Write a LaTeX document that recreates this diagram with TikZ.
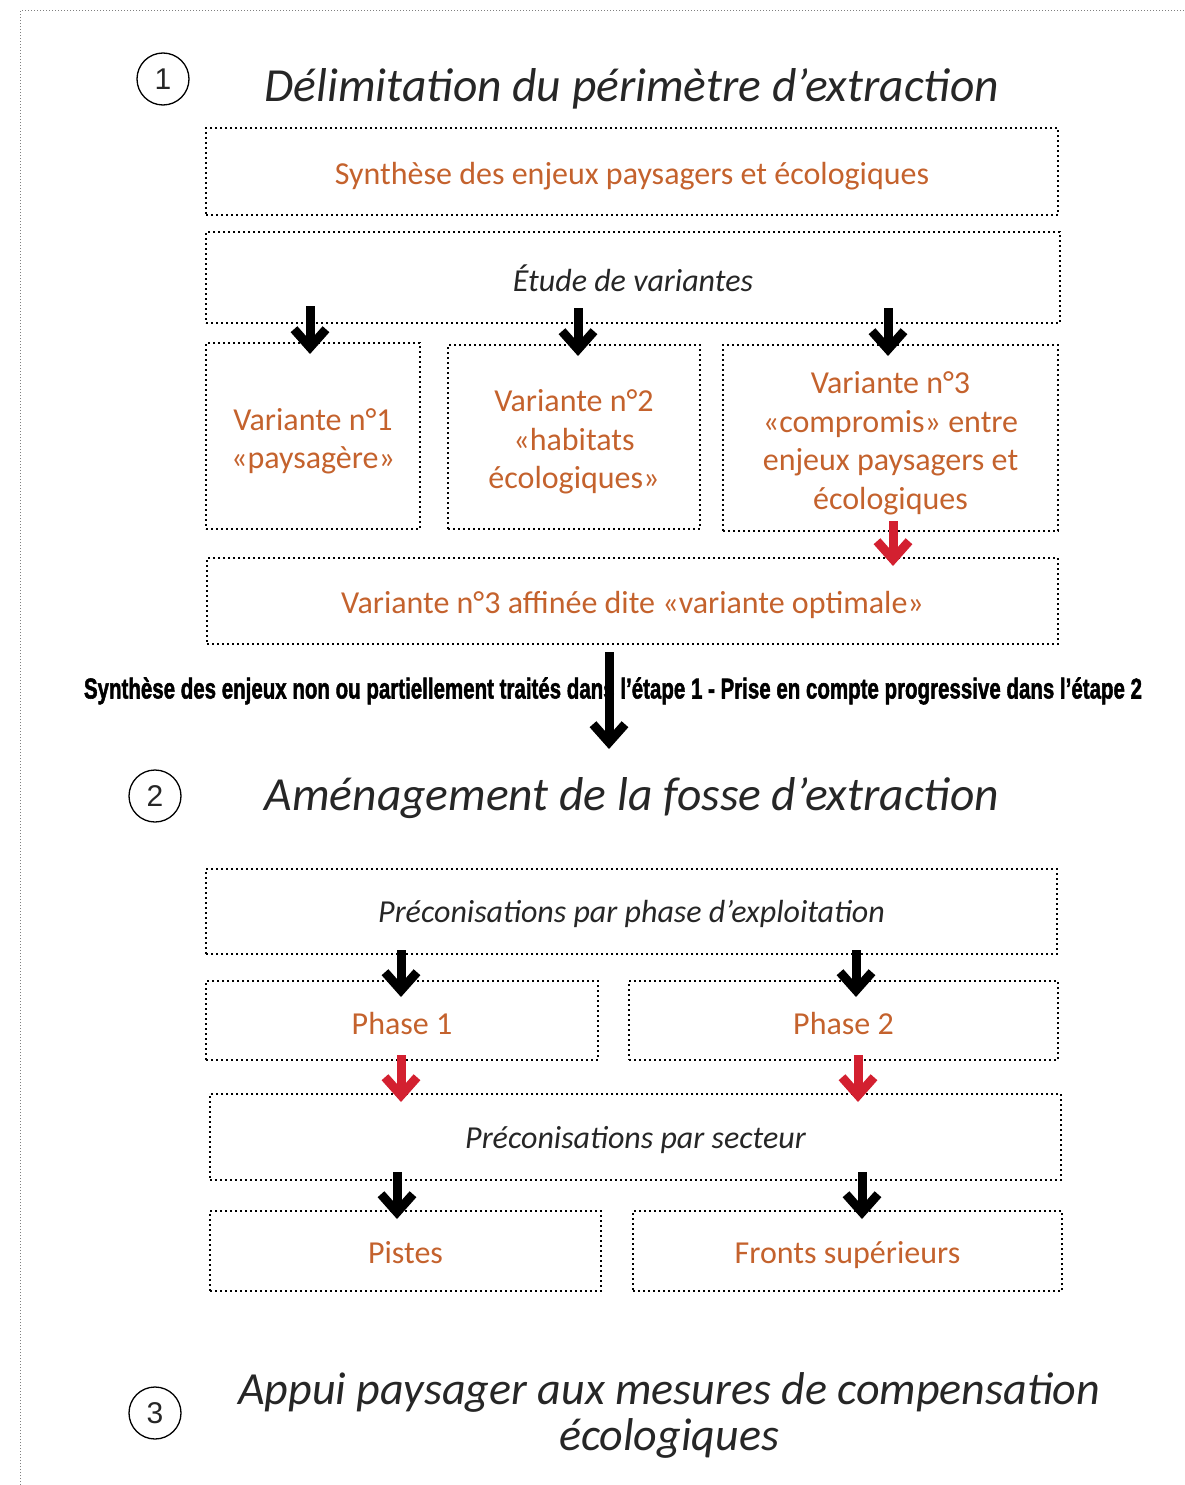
\documentclass[tikz,border=0pt]{standalone}
\usepackage{fontspec}
\setmainfont{Carlito}
\newfontfamily\numfont{Liberation Sans}
\newfontfamily\condfont[FakeBold=2]{Liberation Sans}
\usetikzlibrary{arrows.meta}
\definecolor{orng}{HTML}{C4622D}
\definecolor{redarr}{HTML}{D32030}
\definecolor{dgray}{HTML}{262626}
\begin{document}
\begin{tikzpicture}[x=1pt,y=-1pt,
  box/.style={draw=black, line width=2pt, dash pattern=on 2pt off 3pt, inner sep=0pt},
  txt/.style={inner sep=0pt, align=center, text=orng, font=\fontsize{32}{38.5}\selectfont},
  ittxt/.style={txt, text=dgray, font=\itshape\fontsize{32}{38}\selectfont},
  arr/.style={line width=9pt, -{Straight Barb[length=18pt,width=32pt]}},
  redar/.style={arr, draw=redarr},
  numc/.style={circle, draw, line width=1.3pt, minimum size=52pt, inner sep=0pt,
    font=\numfont\fontsize{30}{30}\selectfont, text=dgray},
  ttl/.style={font=\itshape\fontsize{47.5}{46}\selectfont, text=dgray, align=center}
]
\useasboundingbox (0,0) rectangle (1185,1485);
\draw[gray, line width=1pt, dash pattern=on 1pt off 2pt] (20,1485) -- (20,11) -- (1185,11);

% titles and numbers
\node[numc] (c1) at (163,79) {1};
\node[ttl] (t1) at (632,89) {Délimitation du périmètre d’extraction};
\node[numc] (c2) at (155,796) {2};
\node[ttl] (t2) at (632,798) {Aménagement de la fosse d’extraction};
\node[numc] (c3) at (155,1413) {3};
\node[ttl, font=\itshape\fontsize{46}{46}\selectfont] (t3) at (669,1415) {Appui paysager aux mesures de compensation\\écologiques};

% step 1 boxes
\node[box, minimum width=852pt, minimum height=87pt] (b1) at (632,171.5) {};
\node[box, minimum width=854pt, minimum height=91pt] (b2) at (633,277.5) {};
\node[box, minimum width=214pt, minimum height=186pt] (b3) at (313,436) {};
\node[box, minimum width=252pt, minimum height=184pt] (b4) at (574,437) {};
\node[box, minimum width=335pt, minimum height=186pt] (b5) at (890.5,438) {};
\node[box, minimum width=851pt, minimum height=86pt] (b6) at (632.5,601) {};
\node[txt] (b1t) at ([yshift=-5pt]b1.center) {Synthèse des enjeux paysagers et écologiques};
\node[ittxt] (b2t) at ([yshift=-1pt]b2.center) {Étude de variantes};
\node[txt] (b3t) at ([yshift=-5pt]b3.center) {Variante n°1\\«paysagère»};
\node[txt] (b4t) at ([yshift=-5pt]b4.center) {Variante n°2\\«habitats\\écologiques»};
\node[txt] (b5t) at ([yshift=-5pt]b5.center) {Variante n°3\\«compromis» entre\\enjeux paysagers et\\écologiques};
\node[txt] (b6t) at ([yshift=-4pt]b6.center) {Variante n°3 affinée dite «variante optimale»};

% transition text
\node[inner sep=0pt, text=black] (syn) at (613,691) {\resizebox{1058pt}{21pt}{\condfont\bfseries Synthèse des enjeux non ou partiellement traités dans l’étape 1 - Prise en compte progressive dans l’étape 2}};

% step 2 boxes
\node[box, minimum width=851pt, minimum height=85pt] (b7) at (631.5,911.5) {};
\node[box, minimum width=392pt, minimum height=79pt] (b8) at (402,1020.5) {};
\node[box, minimum width=429pt, minimum height=79pt] (b9) at (843.5,1020.5) {};
\node[box, minimum width=851pt, minimum height=86pt] (b10) at (635.5,1137) {};
\node[box, minimum width=391pt, minimum height=80pt] (b11) at (405.5,1251) {};
\node[box, minimum width=429pt, minimum height=80pt] (b12) at (847.5,1251) {};
\node[ittxt] (b7t) at ([yshift=-2pt]b7.center) {Préconisations par phase d’exploitation};
\node[txt] (b8t) at ([yshift=-3pt]b8.center) {Phase 1};
\node[txt] (b9t) at ([yshift=-3pt]b9.center) {Phase 2};
\node[ittxt] (b10t) at ([yshift=-3pt]b10.center) {Préconisations par secteur};
\node[txt] (b11t) at ([yshift=-2pt]b11.center) {Pistes};
\node[txt] (b12t) at ([yshift=-4pt]b12.center) {Fronts supérieurs};

% arrow endpoints
\coordinate (a1s) at (310,306); \coordinate (a1e) at (310,354);
\coordinate (a2s) at (578,308); \coordinate (a2e) at (578,356);
\coordinate (a3s) at (888,308); \coordinate (a3e) at (888,356);
\coordinate (a4s) at (893,521); \coordinate (a4e) at (893,566);
\coordinate (a5s) at (609,652); \coordinate (a5e) at (609,749);
\coordinate (a6s) at (401,950); \coordinate (a6e) at (401,997);
\coordinate (a7s) at (856,950); \coordinate (a7e) at (856,997);
\coordinate (a8s) at (401,1055); \coordinate (a8e) at (401,1102);
\coordinate (a9s) at (858,1055); \coordinate (a9e) at (858,1102);
\coordinate (a10s) at (397,1172); \coordinate (a10e) at (397,1219);
\coordinate (a11s) at (862,1172); \coordinate (a11e) at (862,1219);

\draw[arr] (a1s) -- (a1e);
\draw[arr] (a2s) -- (a2e);
\draw[arr] (a3s) -- (a3e);
\draw[redar] (a4s) -- (a4e);
\draw[arr] (a5s) -- (a5e);
\draw[arr] (a6s) -- (a6e);
\draw[arr] (a7s) -- (a7e);
\draw[redar] (a8s) -- (a8e);
\draw[redar] (a9s) -- (a9e);
\draw[arr] (a10s) -- (a10e);
\draw[arr] (a11s) -- (a11e);
\end{tikzpicture}
\end{document}
